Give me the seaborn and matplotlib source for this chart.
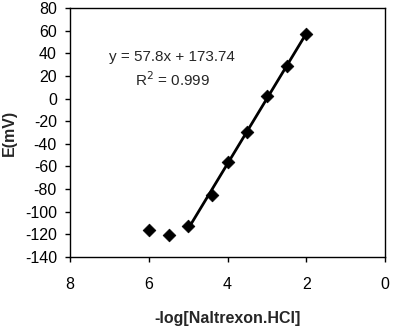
import numpy as np
import pandas as pd
import matplotlib
matplotlib.use('Agg')
import matplotlib.pyplot as plt
import seaborn as sns

# data
neg_log_conc = [6.0, 5.5, 5.0, 4.4, 4.0, 3.5, 3.0, 2.5, 2.0]
potential_mv = [-116, -121, -113, -85, -56, -30, 2, 29, 57]
eq_text = "y = 57.8x + 173.74"
r2_text = "R$^2$ = 0.999"

data = pd.DataFrame({"x": neg_log_conc, "E": potential_mv})
linear = data[data["x"] <= 5.0]

sns.set_style("white")
plt.rcParams['font.family'] = ['Liberation Sans', 'DejaVu Sans']
plt.rcParams['axes.unicode_minus'] = False

fig = plt.figure(figsize=(3.94, 3.30), dpi=100)
ax = fig.add_axes([0.178, 0.222, 0.799, 0.753])

sns.regplot(data=linear, x="x", y="E", scatter=False, ci=None, truncate=True,
            line_kws={"color": "black", "lw": 2}, ax=ax)
sns.scatterplot(data=data, x="x", y="E", marker="D", s=42, color="black",
                edgecolor="black", ax=ax, zorder=3)

ax.set_xlim(8, 0)
ax.set_ylim(-140, 80)
ax.set_xticks([8, 6, 4, 2, 0])
ax.set_yticks(np.arange(-140, 81, 20))
ax.tick_params(axis="both", direction="out", length=3.5, width=1, labelsize=11.5,
               bottom=True, left=True, colors="black")
ax.tick_params(axis="x", pad=11)
ax.tick_params(axis="y", pad=6)
for s in ax.spines.values():
    s.set_color("black")
    s.set_linewidth(1)

ax.set_xlabel("-log[Naltrexon.HCl]", fontsize=11.5, fontweight="bold", labelpad=14)
ax.set_ylabel("E(mV)", fontsize=11.5, fontweight="bold", labelpad=6)

ax.text(5.41, 36.6, eq_text, ha="center", va="center", fontsize=11)
ax.text(5.39, 16.5, r2_text, ha="center", va="center", fontsize=11)

fig.savefig("out.png", dpi=100)
